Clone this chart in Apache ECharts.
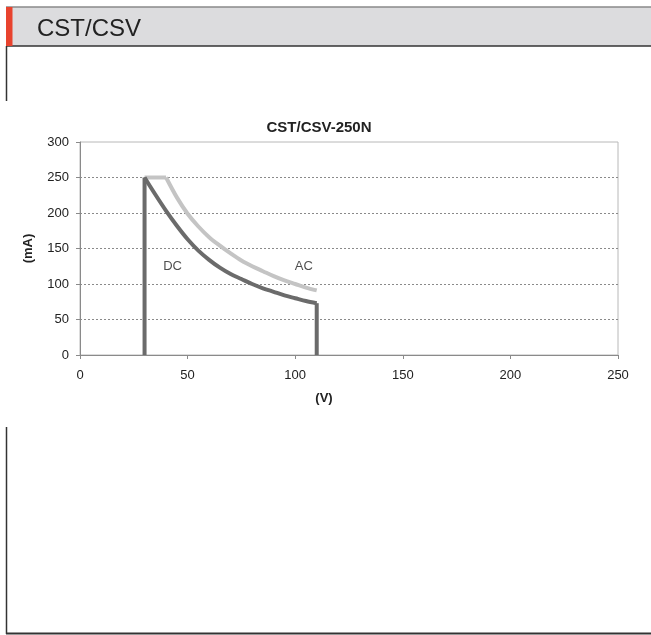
<!DOCTYPE html>
<html>
<head>
<meta charset="utf-8">
<script src="https://cdn.jsdelivr.net/npm/echarts@6/dist/echarts.min.js"></script>
<style>html,body{margin:0;padding:0;background:#fff;}#c{width:651px;height:635px;}</style>
</head>
<body>
<div id="c"></div>
<script>
const headerText = 'CST/CSV';
const chartTitle = 'CST/CSV-250N';
const xTicks = [0, 50, 100, 150, 200, 250];
const yTicks = [0, 50, 100, 150, 200, 250, 300];
const dcVoltage = [30, 35, 40, 45, 50, 55, 60, 65, 70, 75, 80, 85, 90, 95, 100, 105, 110];
const dcCurrent = [250, 226, 203, 182, 163, 147, 134, 123, 114, 107, 100, 94, 89, 84, 80, 76, 73];
const acFlatVoltage = [30, 40];
const acFlatCurrent = [250, 250];
const acVoltage = [40, 45, 50, 55, 60, 65, 70, 75, 80, 85, 90, 95, 100, 105, 110];
const acCurrent = [250, 222, 199, 181, 166, 154, 143, 133, 125, 118, 111, 105, 100, 95, 91];
const labels = [
  {name: 'DC', x: 43, y: 125},
  {name: 'AC', x: 104, y: 125}
];

const font = '"Liberation Sans", Arial, sans-serif';
const dcColor = '#6b6b6b';
const acColor = '#c4c4c4';
const zip = (a, b) => a.map((v, i) => [v, b[i]]);
const dcLeft = [[dcVoltage[0], 0], [dcVoltage[0], dcCurrent[0]]];
const dcRight = [[dcVoltage[dcVoltage.length - 1], dcCurrent[dcCurrent.length - 1]], [dcVoltage[dcVoltage.length - 1], 0]];

const chart = echarts.init(document.getElementById('c'), null, {renderer: 'canvas'});
chart.setOption({
  animation: false,
  backgroundColor: '#fff',
  grid: {left: 80, right: 33, top: 142, bottom: 280, show: true, borderColor: '#b8b8b8', borderWidth: 1, backgroundColor: 'transparent'},
  xAxis: {
    type: 'value', min: xTicks[0], max: xTicks[xTicks.length - 1], interval: 50,
    name: '(V)', nameLocation: 'middle', nameGap: 37,
    nameTextStyle: {fontFamily: font, fontSize: 13, fontWeight: 'bold', color: '#222', padding: [0, 0, 0, -50]},
    axisLine: {lineStyle: {color: '#8a8a8a', width: 1}},
    axisTick: {show: true, length: 4, inside: false, lineStyle: {color: '#8a8a8a'}},
    axisLabel: {fontFamily: font, fontSize: 13, color: '#222', margin: 14},
    splitLine: {show: false}
  },
  yAxis: {
    type: 'value', min: yTicks[0], max: yTicks[yTicks.length - 1], interval: 50,
    name: '(mA)', nameLocation: 'middle', nameGap: 45, nameRotate: 90,
    nameTextStyle: {fontFamily: font, fontSize: 13, fontWeight: 'bold', color: '#222'},
    axisLine: {show: true, lineStyle: {color: '#8a8a8a', width: 1}},
    axisTick: {show: true, length: 4, lineStyle: {color: '#8a8a8a'}},
    axisLabel: {fontFamily: font, fontSize: 13, color: '#222', margin: 11},
    splitLine: {show: true, showMaxLine: false, showMinLine: false, lineStyle: {color: '#8a8a8a', type: [2, 2], width: 1}}
  },
  series: [
    {type: 'line', data: zip(acFlatVoltage, acFlatCurrent), symbol: 'none',
     lineStyle: {color: acColor, width: 4, cap: 'butt'}, z: 2},
    {type: 'line', data: zip(acVoltage, acCurrent), smooth: 0.3, symbol: 'none',
     lineStyle: {color: acColor, width: 4, join: 'round'}, z: 2},
    {type: 'line', data: zip(dcVoltage, dcCurrent), smooth: 0.3, symbol: 'none',
     lineStyle: {color: dcColor, width: 4, join: 'round'}, z: 3},
    {type: 'line', data: dcLeft, symbol: 'none', lineStyle: {color: dcColor, width: 4, cap: 'butt'}, z: 3},
    {type: 'line', data: dcRight, symbol: 'none', lineStyle: {color: dcColor, width: 4, cap: 'butt'}, z: 3},
    {type: 'scatter', data: labels.map(l => ({name: l.name, value: [l.x, l.y]})), symbolSize: 0,
     label: {show: true, position: 'inside', formatter: p => p.name, fontFamily: font, fontSize: 13, color: '#222'}, z: 4}
  ],
  graphic: [
    {type: 'rect', shape: {x: 6, y: 7, width: 645, height: 39}, style: {fill: '#dcdcde'}, z: 1},
    {type: 'line', shape: {x1: 6, y1: 7, x2: 651, y2: 7}, style: {stroke: '#8a8a8a', lineWidth: 1.5}, z: 2},
    {type: 'line', shape: {x1: 6, y1: 46, x2: 651, y2: 46}, style: {stroke: '#333', lineWidth: 1.5}, z: 2},
    {type: 'rect', shape: {x: 6, y: 7, width: 6.5, height: 39}, style: {fill: '#e8432e'}, z: 3},
    {type: 'text', left: 37, top: 17, style: {text: headerText, font: '24px ' + font, fill: '#222'}, z: 3},
    {type: 'line', shape: {x1: 6.5, y1: 46, x2: 6.5, y2: 101}, style: {stroke: '#333', lineWidth: 1.5}},
    {type: 'line', shape: {x1: 6.5, y1: 427, x2: 6.5, y2: 634}, style: {stroke: '#333', lineWidth: 1.5}},
    {type: 'line', shape: {x1: 6, y1: 633.5, x2: 651, y2: 633.5}, style: {stroke: '#333', lineWidth: 2}},
    {type: 'text', x: 319, y: 128, style: {text: chartTitle, font: 'bold 15px ' + font, fill: '#222', textAlign: 'center', textVerticalAlign: 'middle'}}
  ]
});
</script>
</body>
</html>
